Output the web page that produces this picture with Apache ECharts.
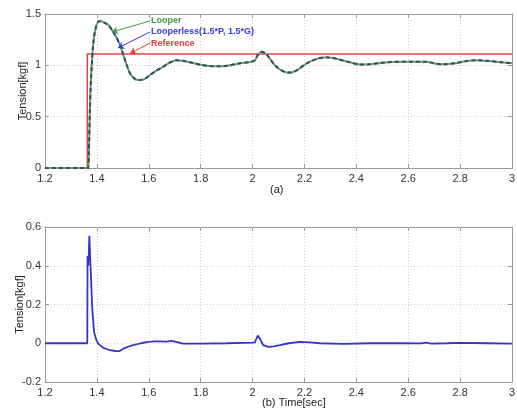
<!DOCTYPE html>
<html>
<head>
<meta charset="utf-8">
<script src="https://cdn.jsdelivr.net/npm/echarts@6/dist/echarts.min.js"></script>
<style>
  html, body { margin: 0; padding: 0; background: #fff; }
  #chart { width: 517px; height: 412px; }
</style>
</head>
<body>
<div id="chart"></div>
<script>
// (a) tension response: time samples and the two controller responses
const timeA = [1.2, 1.366, 1.369, 1.373, 1.377, 1.38, 1.386, 1.395, 1.405, 1.415, 1.425, 1.444, 1.47, 1.489, 1.502, 1.515, 1.528, 1.543, 1.56, 1.58, 1.605, 1.63, 1.656, 1.68, 1.707, 1.73, 1.759, 1.8, 1.836, 1.87, 1.9, 1.952, 1.985, 2.009, 2.02, 2.035, 2.048, 2.061, 2.08, 2.099, 2.12, 2.144, 2.17, 2.209, 2.25, 2.286, 2.33, 2.375, 2.414, 2.45, 2.5, 2.568, 2.62, 2.671, 2.7, 2.735, 2.78, 2.82, 2.864, 2.92, 2.96, 3.0];
const looperTension = [0, 0, 0.15, 0.565, 0.85, 0.987, 1.214, 1.36, 1.425, 1.432, 1.42, 1.393, 1.295, 1.198, 1.1, 1.003, 0.92, 0.873, 0.857, 0.862, 0.906, 0.95, 0.987, 1.025, 1.05, 1.045, 1.03, 1.005, 0.993, 0.99, 0.995, 1.02, 1.03, 1.05, 1.1, 1.133, 1.12, 1.084, 1.02, 0.971, 0.94, 0.928, 0.95, 1.02, 1.065, 1.078, 1.06, 1.03, 1.008, 1.01, 1.025, 1.035, 1.035, 1.035, 1.02, 1.01, 1.02, 1.04, 1.05, 1.04, 1.03, 1.02];
const looperlessTension = [0, 0, 0.14, 0.56, 0.85, 0.985, 1.21, 1.36, 1.425, 1.43, 1.42, 1.392, 1.295, 1.198, 1.1, 1.003, 0.921, 0.874, 0.858, 0.863, 0.906, 0.95, 0.987, 1.025, 1.049, 1.045, 1.03, 1.005, 0.993, 0.99, 0.995, 1.02, 1.03, 1.05, 1.1, 1.132, 1.12, 1.084, 1.02, 0.972, 0.94, 0.929, 0.95, 1.02, 1.065, 1.077, 1.06, 1.03, 1.008, 1.01, 1.025, 1.035, 1.035, 1.034, 1.02, 1.01, 1.02, 1.04, 1.05, 1.04, 1.03, 1.02];

// reference tension: a step applied at t = 1.363 s
const refTime = [1.2, 1.363, 1.363, 3.0];
const refTension = [0, 0, 1.11, 1.11];

// (b) tension difference between the two responses
const timeB = [1.2, 1.363, 1.364, 1.367, 1.369, 1.371, 1.374, 1.377, 1.382, 1.389, 1.397, 1.405, 1.425, 1.45, 1.47, 1.486, 1.49, 1.502, 1.52, 1.54, 1.57, 1.598, 1.62, 1.643, 1.67, 1.688, 1.695, 1.733, 1.8, 1.9, 2.0, 2.009, 2.02, 2.03, 2.041, 2.061, 2.08, 2.106, 2.14, 2.183, 2.22, 2.26, 2.35, 2.45, 2.55, 2.65, 2.67, 2.69, 2.75, 2.8, 2.9, 3.0];
const diffTension = [0, 0, 0.45, 0.4, 0.47, 0.555, 0.45, 0.351, 0.18, 0.058, 0.02, -0.002, -0.024, -0.036, -0.04, -0.041, -0.035, -0.028, -0.018, -0.01, 0.0, 0.007, 0.01, 0.01, 0.008, 0.012, 0.006, -0.002, -0.002, 0.0, 0.003, 0.005, 0.04, 0.02, -0.01, -0.019, -0.016, -0.01, 0.0, 0.007, 0.005, 0.0, -0.003, 0.0, 0.0, -0.001, 0.003, -0.002, 0.0, 0.002, 0.0, -0.002];

const zip = (xs, ys) => xs.map((x, i) => [x, ys[i]]);

const FONT = 'Liberation Sans, Arial, sans-serif';
const frameColor = '#9a9a9a';
const labelStyle = { color: '#333', fontSize: 11, fontFamily: FONT };
const gridLine = { show: true, lineStyle: { color: '#cfcfcf', type: [1, 2], width: 1 } };

function xAxisPair(gridIndex) {
  return [
    {
      type: 'value', gridIndex, min: 1.2, max: 3, interval: 0.2,
      axisLine: { show: true, onZero: false, lineStyle: { color: frameColor } },
      axisTick: { show: true, inside: true, length: 4, lineStyle: { color: frameColor } },
      axisLabel: Object.assign({ margin: 5, formatter: v => String(+v.toFixed(1)) }, labelStyle),
      splitLine: gridLine
    },
    {
      type: 'value', gridIndex, position: 'top', min: 1.2, max: 3, interval: 0.2,
      axisLine: { show: true, onZero: false, lineStyle: { color: frameColor } },
      axisTick: { show: true, inside: true, length: 4, lineStyle: { color: frameColor } },
      axisLabel: { show: false }, splitLine: { show: false }
    }
  ];
}

function yAxisPair(gridIndex, min, max, interval, nameGap) {
  return [
    {
      type: 'value', gridIndex, min, max, interval,
      name: 'Tension[kgf]', nameLocation: 'middle', nameGap, nameMoveOverlap: false,
      nameTextStyle: { color: '#222', fontSize: 11, fontFamily: FONT },
      axisLine: { show: true, onZero: false, lineStyle: { color: frameColor } },
      axisTick: { show: true, inside: true, length: 4, lineStyle: { color: frameColor } },
      axisLabel: Object.assign({ margin: 4, formatter: v => String(+v.toFixed(1)) }, labelStyle),
      splitLine: gridLine
    },
    {
      type: 'value', gridIndex, position: 'right', min, max, interval,
      axisLine: { show: true, onZero: false, lineStyle: { color: frameColor } },
      axisTick: { show: true, inside: true, length: 4, lineStyle: { color: frameColor } },
      axisLabel: { show: false }, splitLine: { show: false }
    }
  ];
}

// annotation: label text with an arrow pointing at a curve
function callout(text, color, from, to) {
  return {
    markLine: {
      silent: true, symbol: ['none', 'arrow'], symbolSize: [6, 6],
      lineStyle: { color, width: 1, type: 'solid' }, label: { show: false },
      data: [[{ coord: from }, { coord: to }]]
    },
    markPoint: {
      silent: true, symbol: 'circle', symbolSize: 0,
      label: { show: true, position: 'right', distance: 1, formatter: text, color,
               fontSize: 9, fontWeight: 'bold', fontFamily: FONT },
      data: [{ coord: from }]
    }
  };
}

const chart = echarts.init(document.getElementById('chart'), null, { renderer: 'canvas' });

const gridBase = { containLabel: false, outerBoundsMode: 'none' };

chart.setOption({
  backgroundColor: '#fff',
  animation: false,
  grid: [
    Object.assign({ left: 45, top: 14, width: 467, height: 154 }, gridBase),
    Object.assign({ left: 45, top: 227, width: 467, height: 155 }, gridBase)
  ],
  xAxis: [...xAxisPair(0), ...xAxisPair(1)],
  yAxis: [...yAxisPair(0, 0, 1.5, 0.5, 17), ...yAxisPair(1, -0.2, 0.6, 0.2, 20)],
  graphic: [
    { type: 'text', left: 270, top: 184, style: { text: '(a)', fill: '#222', font: '11px ' + FONT } },
    { type: 'text', left: 262, top: 397, style: { text: '(b) Time[sec]', fill: '#222', font: '11px ' + FONT } }
  ],
  series: [
    Object.assign({
      name: 'Reference', type: 'line', xAxisIndex: 0, yAxisIndex: 0,
      data: zip(refTime, refTension), showSymbol: false,
      lineStyle: { color: '#e04545', width: 1.5 }, z: 2
    }, callout('Reference', '#e03a3a', [1.605, 1.217], [1.528, 1.115])),
    Object.assign({
      name: 'Looper', type: 'line', xAxisIndex: 0, yAxisIndex: 0,
      data: zip(timeA, looperTension), showSymbol: false, smooth: 0.3,
      lineStyle: { color: '#5ea85e', width: 2 }, z: 3
    }, callout('Looper', '#3f9a3f', [1.605, 1.432], [1.458, 1.325])),
    Object.assign({
      name: 'Looperless(1.5*P, 1.5*G)', type: 'line', xAxisIndex: 0, yAxisIndex: 0,
      data: zip(timeA, looperlessTension), showSymbol: false, smooth: 0.3,
      lineStyle: { color: '#3a4478', width: 2, type: [4, 3] }, z: 4
    }, callout('Looperless(1.5*P, 1.5*G)', '#3a3ad6', [1.605, 1.325], [1.481, 1.169])),
    {
      name: 'Difference', type: 'line', xAxisIndex: 2, yAxisIndex: 2,
      data: zip(timeB, diffTension), showSymbol: false,
      lineStyle: { color: '#3535c8', width: 1.8 }
    }
  ]
});
</script>
</body>
</html>
